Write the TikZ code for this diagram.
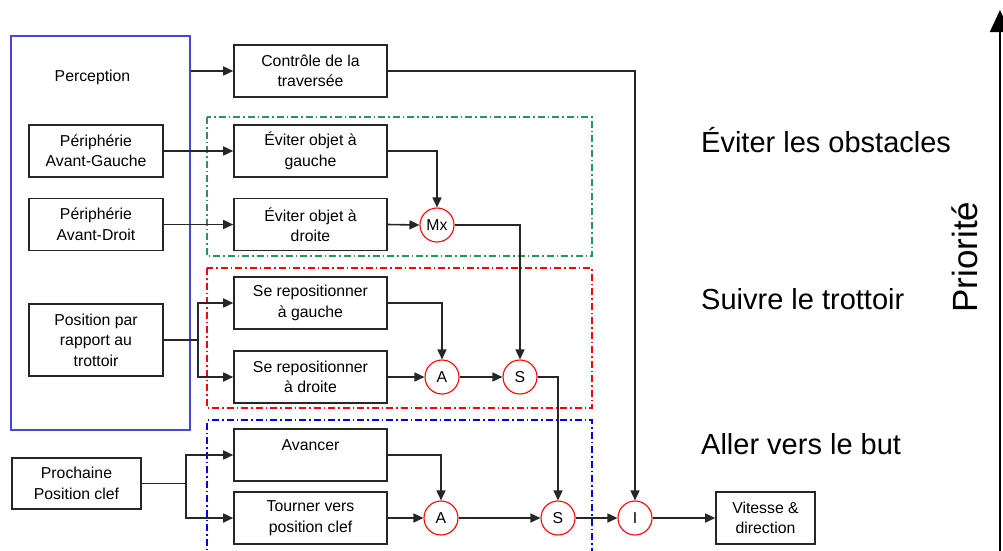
\documentclass[tikz,border=0pt]{standalone}
\usepackage{fontspec}
\setmainfont{Liberation Sans}
\usetikzlibrary{arrows.meta}
\definecolor{grn}{RGB}{40,150,90}
\definecolor{blu}{RGB}{0,0,230}
\definecolor{pblue}{RGB}{70,70,215}
\tikzset{
  boxtxt/.style={font=\fontsize{15.8}{20.5}\selectfont},
  blk/.style={draw=black!85, line width=1.6pt, minimum width=153pt, minimum height=52pt, inner sep=0pt, align=center, boxtxt},
  opnode/.style={circle, draw=red, line width=1.1pt, minimum size=34pt, inner sep=0pt, boxtxt},
  conn/.style={draw=black!85, line width=1.6pt, -{Triangle[length=10pt,width=9pt]}},
  plain/.style={draw=black!85, line width=1.6pt},
  layer/.style={line width=1.1pt, dash pattern=on 7pt off 3pt on 1.5pt off 3pt},
  biglbl/.style={font=\fontsize{29}{32}\selectfont, anchor=west, inner sep=0pt},
}
\begin{document}
\begin{tikzpicture}[x=1pt,y=-1pt]
\useasboundingbox (0,0) rectangle (1003,550);
% layers
\draw[layer, grn] (207,117) rectangle (592,256);
\draw[layer, red] (207,268) rectangle (592,408);
\draw[layer, blu] (207,560) -- (207,420) -- (592,420) -- (592,560);
% perception block
\node[draw=pblue, line width=1.1pt, minimum width=179pt, minimum height=394pt, inner sep=0pt] (perc) at (100.5,233) {};
\node[boxtxt] (perclbl) at (92.5,77) {Perception};
\node[blk, minimum width=134pt] (pag) at (96,151) {Périphérie\\Avant-Gauche};
\node[blk, minimum width=134pt] (pad) at (96,224.5) {Périphérie\\Avant-Droit};
\node[blk, minimum width=134pt, minimum height=72pt] (pos) at (96,340) {Position par\\rapport au\\trottoir};
\node[blk, minimum width=129pt, minimum height=51pt] (prox) at (76.5,483.5) {Prochaine\\Position clef};
% behaviours
\node[blk] (ctrl) at (310.5,71) {Contrôle de la\\traversée};
\node[blk] (eg) at (310.5,151) {Éviter objet à\\gauche};
\node[blk] (ed) at (310.5,224.5) {Éviter objet à\\droite};
\node[blk] (rg) at (310.5,303) {Se repositionner\\à gauche};
\node[blk] (rd) at (310.5,377) {Se repositionner\\à droite};
\node[blk] (av) at (310.5,455) {Avancer\\~};
\node[blk] (tv) at (310.5,518) {Tourner vers\\position clef};
\node[blk, minimum width=99pt] (vit) at (765.5,518) {Vitesse \&\\direction};
% operators
\node[opnode] (mx) at (437,225) {Mx};
\node[opnode] (a1) at (442,377) {A};
\node[opnode] (s1) at (520,377) {S};
\node[opnode] (a2) at (441,518) {A};
\node[opnode] (s2) at (558,518) {S};
\node[opnode] (i) at (635,518) {I};
% connectors
\draw[conn] (ctrl.west -| perc.east) -- (ctrl.west);
\draw[conn] (pag.east) -- (eg.west);
\draw[conn] (pad.east) -- (ed.west);
\draw[conn] (eg.east) -| (mx.north);
\draw[conn] (ed.east) -- (mx.west);
\draw[conn] (mx.east) -| (s1.north);
\coordinate (sp1) at (198,340);
\draw[plain] (pos.east) -- (sp1);
\draw[conn] (sp1) |- (rg.west);
\draw[conn] (sp1) |- (rd.west);
\draw[conn] (rg.east) -| (a1.north);
\draw[conn] (rd.east) -- (a1.west);
\draw[conn] (a1.east) -- (s1.west);
\draw[conn] (s1.east) -| (s2.north);
\coordinate (sp2) at (186,483.5);
\draw[plain] (prox.east) -- (sp2);
\draw[conn] (sp2) |- (av.west);
\draw[conn] (sp2) |- (tv.west);
\draw[conn] (av.east) -| (a2.north);
\draw[conn] (tv.east) -- (a2.west);
\draw[conn] (a2.east) -- (s2.west);
\draw[conn] (s2.east) -- (i.west);
\draw[conn] (ctrl.east) -| (i.north);
\draw[conn] (i.east) -- (vit.west);
% labels
\node[biglbl] (l1) at (701,140) {Éviter les obstacles};
\node[biglbl] (l2) at (701,299) {Suivre le trottoir};
\node[biglbl] (l3) at (701,444) {Aller vers le but};
\coordinate (pbot) at (1000,552);
\coordinate (ptop) at (1000,10);
\draw[line width=2pt, -{Triangle[length=22pt,width=20pt]}] (pbot) -- (ptop);
\node[rotate=90, font=\fontsize{35}{37}\selectfont, inner sep=0pt] (prio) at (965,257) {Priorité};
\end{tikzpicture}
\end{document}
